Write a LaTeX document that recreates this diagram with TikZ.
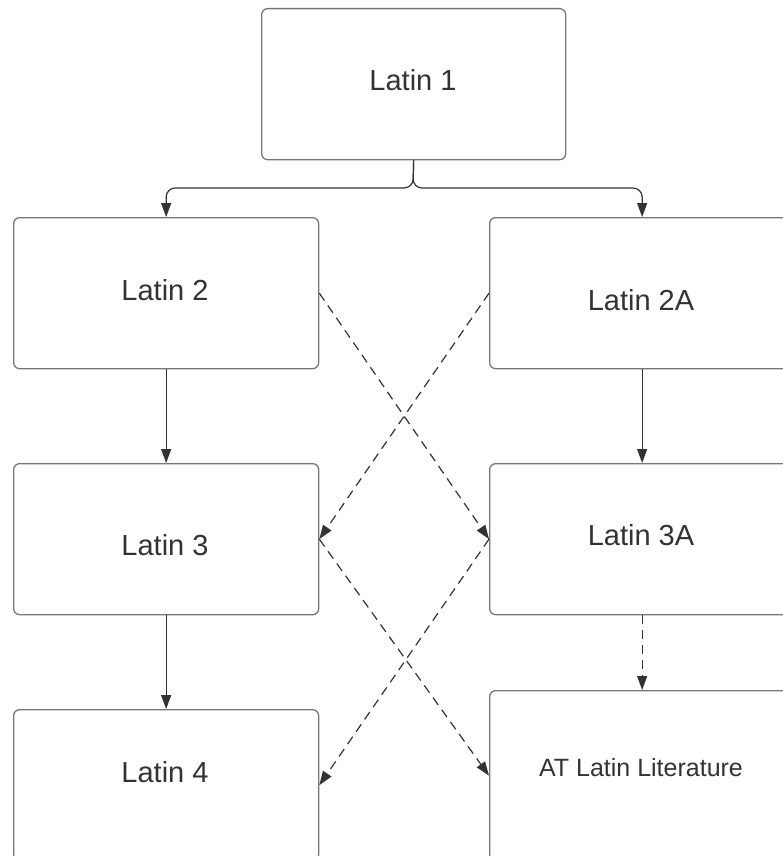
\documentclass[tikz,border=0pt]{standalone}
\usepackage{fontspec}
\setmainfont{Liberation Sans}
\usetikzlibrary{arrows.meta}
\definecolor{boxgray}{HTML}{777777}
\definecolor{linegray}{HTML}{333333}
\definecolor{txtgray}{HTML}{333333}
\tikzset{
  box/.style={draw=boxgray, line width=1.3pt, rounded corners=6pt, minimum width=305pt, minimum height=151pt, inner sep=0pt, anchor=north west},
  lbl/.style={text=txtgray, font=\fontsize{29}{32}\selectfont, inner sep=0pt},
  smalllbl/.style={text=txtgray, font=\fontsize{25}{28}\selectfont, inner sep=0pt},
  conn/.style={draw=linegray, line width=1.2pt, -{Triangle[length=14pt,width=10pt]}},
  dconn/.style={conn, dash pattern=on 9pt off 6pt},
}
\begin{document}
\begin{tikzpicture}[x=1pt,y=-1pt]
\useasboundingbox (0,0) rectangle (783,856);
\fill[white] (0,0) rectangle (783,856);
\clip (0,0) rectangle (783,856);

\node[box, minimum width=304pt] (l1) at (261,8) {};
\node[box] (l2) at (13,217) {};
\node[box] (l2a) at (489,217) {};
\node[box] (l3) at (13,463) {};
\node[box] (l3a) at (489,463) {};
\node[box] (l4) at (13,709) {};
\node[box, minimum height=170pt] (at) at (489,690) {};

\node[lbl] (t1) at (413,80) {Latin 1};
\node[lbl] (t2) at (165,290) {Latin 2};
\node[lbl] (t2a) at (641,300) {Latin 2A};
\node[lbl] (t3) at (165,545) {Latin 3};
\node[lbl] (t3a) at (641,535) {Latin 3A};
\node[lbl] (t4) at (165,772) {Latin 4};
\node[smalllbl] (tat) at (641,768) {AT Latin Literature};

\coordinate (split) at (413,188);
\draw[conn, rounded corners=9pt] (l1.south) -- (split) -| (l2.north);
\draw[conn, rounded corners=9pt] (l1.south) -- (split) -| (l2a.north);

\draw[conn] (l2.south) -- (l3.north);
\draw[conn] (l2a.south) -- (l3a.north);
\draw[conn] (l3.south) -- (l4.north);
\draw[dconn] (l3a.south) -- (at.north);

\draw[dconn] (l2.east) -- (l3a.west);
\draw[dconn] (l2a.west) -- (l3.east);
\draw[dconn] (l3.east) -- (at.west);
\draw[dconn] (l3a.west) -- (l4.east);
\end{tikzpicture}
\end{document}
